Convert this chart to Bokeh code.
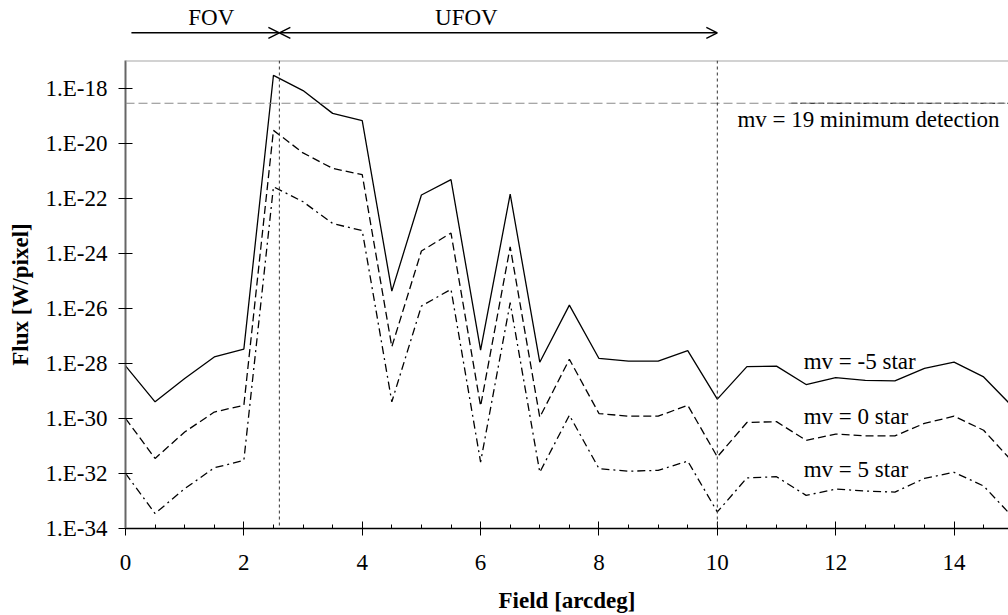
from bokeh.plotting import figure
from bokeh.models import Range1d, FixedTicker, Span, Arrow, OpenHead, Label
from bokeh.layouts import column
from bokeh.embed import file_html
from bokeh.resources import INLINE

# ---------------- data ----------------
field = [0, 0.5, 1, 1.5, 2, 2.5, 3, 3.5, 4, 4.5, 5, 5.5, 6, 6.5, 7, 7.5,
         8, 8.5, 9, 9.5, 10, 10.5, 11, 11.5, 12, 12.5, 13, 13.5, 14, 14.5, 15]

flux_mv_m5 = [8.1e-29, 4.0e-30, 2.8e-29, 1.7e-28, 3.3e-28, 2.9e-18, 8.1e-19, 1.2e-19,
              6.6e-20, 4.2e-26, 1.3e-22, 4.7e-22, 3.0e-28, 1.4e-22, 1.1e-28, 1.3e-26,
              1.5e-28, 1.2e-28, 1.2e-28, 2.9e-28, 5.0e-30, 7.6e-29, 7.9e-29, 1.7e-29,
              3.0e-29, 2.4e-29, 2.3e-29, 6.6e-29, 1.1e-28, 3.2e-29, 2.5e-30]

flux_mv_0 = [1.0e-30, 3.5e-32, 3.2e-31, 1.7e-30, 3.0e-30, 2.9e-20, 4.4e-21, 1.2e-21,
             7.1e-22, 4.0e-28, 1.2e-24, 5.4e-24, 2.8e-30, 1.7e-24, 1.1e-30, 1.4e-28,
             1.5e-30, 1.2e-30, 1.2e-30, 3.0e-30, 4.0e-32, 7.1e-31, 7.6e-31, 1.6e-31,
             2.7e-31, 2.3e-31, 2.3e-31, 6.6e-31, 1.2e-30, 3.7e-31, 2.5e-32]

flux_mv_5 = [1.0e-32, 3.5e-34, 2.8e-33, 1.6e-32, 3.0e-32, 2.6e-22, 7.4e-23, 1.2e-23,
             6.6e-24, 4.0e-30, 1.2e-26, 4.9e-26, 2.6e-32, 1.6e-26, 1.1e-32, 1.3e-30,
             1.5e-32, 1.2e-32, 1.3e-32, 2.8e-32, 4.0e-34, 6.9e-33, 7.6e-33, 1.6e-33,
             2.7e-33, 2.3e-33, 2.1e-33, 6.6e-33, 1.1e-32, 3.5e-33, 2.5e-34]

threshold_mv19 = 2.8e-19
fov_edge = 2.6
ufov_edge = 10.0
fov_start = 0.1

y_ticks = [1e-34, 1e-32, 1e-30, 1e-28, 1e-26, 1e-24, 1e-22, 1e-20, 1e-18]
y_tick_labels = ["1.E-34", "1.E-32", "1.E-30", "1.E-28", "1.E-26",
                 "1.E-24", "1.E-22", "1.E-20", "1.E-18"]
x_ticks = [0, 2, 4, 6, 8, 10, 12, 14]
x_minor_ticks = [0.5, 1, 1.5, 2.5, 3, 3.5, 4.5, 5, 5.5, 6.5, 7, 7.5, 8.5, 9, 9.5,
                 10.5, 11, 11.5, 12.5, 13, 13.5, 14.5]

FONT = "Liberation Serif"
FS = "23px"
W = 1008

xr = Range1d(0, 14.92)

# ---------------- top strip with FOV / UFOV arrows ----------------
top = figure(width=W, height=58, x_range=xr, y_range=Range1d(58, 0),
             x_axis_location=None, y_axis_location=None,
             toolbar_location=None, output_backend="svg",
             min_border_left=125, min_border_right=0, min_border_top=0, min_border_bottom=0,
             outline_line_color=None)
top.grid.visible = False

arrow_y = 32.3
head = dict(size=11, line_width=1.4, line_color="black")
top.add_layout(Arrow(end=OpenHead(**head),
                     x_start=fov_start, y_start=arrow_y, x_end=fov_edge, y_end=arrow_y,
                     line_width=1.4, line_color="black"))
top.add_layout(Arrow(start=OpenHead(**head), end=OpenHead(**head),
                     x_start=fov_edge, y_start=arrow_y, x_end=ufov_edge, y_end=arrow_y,
                     line_width=1.4, line_color="black"))
top.add_layout(Label(x=1.45, y=17, text="FOV", text_align="center", text_baseline="alphabetic",
                     text_font=FONT, text_font_size=FS, text_color="black"))
top.add_layout(Label(x=5.76, y=17, text="UFOV", text_align="center", text_baseline="alphabetic",
                     text_font=FONT, text_font_size=FS, text_color="black"))

# ---------------- main chart ----------------
p = figure(width=W, height=557, x_range=xr, y_range=Range1d(1e-34, 1e-17),
           y_axis_type="log", toolbar_location=None, output_backend="svg",
           min_border_left=125, min_border_right=0, min_border_top=2, min_border_bottom=87,
           outline_line_color=None,
           x_axis_label="Field [arcdeg]", y_axis_label="Flux [W/pixel]")
p.grid.visible = False

p.add_layout(Span(location=1e-17, dimension="width", line_color="#a6a6a6", line_width=2))
p.add_layout(Span(location=threshold_mv19, dimension="width", line_color="#8a8a8a",
                  line_width=1.2, line_dash="9 4"))
p.line([11.25, 15], [threshold_mv19, threshold_mv19], line_color="black",
       line_width=1.2, line_dash="6 3")
p.add_layout(Span(location=fov_edge, dimension="height", line_color="#333333",
                  line_width=1, line_dash="3 3"))
p.add_layout(Span(location=ufov_edge, dimension="height", line_color="#333333",
                  line_width=1, line_dash="3 3"))

p.line(field, flux_mv_m5, line_color="black", line_width=1.3)
p.line(field, flux_mv_0, line_color="black", line_width=1.3, line_dash="8 4")
p.line(field, flux_mv_5, line_color="black", line_width=1.3, line_dash="8 4 2 4")

for x, y, t in [(10.34, 10 ** -19.15, "mv = 19 minimum detection"),
                (11.46, 10 ** -27.95, "mv = -5 star"),
                (11.46, 10 ** -29.92, "mv = 0 star"),
                (11.46, 10 ** -31.84, "mv = 5 star")]:
    p.add_layout(Label(x=x, y=y, text=t, text_align="left", text_baseline="alphabetic",
                       text_font=FONT, text_font_size=FS, text_color="black"))

xa = p.xaxis[0]
xa.ticker = FixedTicker(ticks=x_ticks, minor_ticks=x_minor_ticks)
xa.major_tick_in = 7
xa.major_tick_out = 7
xa.minor_tick_in = 4
xa.minor_tick_out = 0
xa.axis_line_color = "black"
xa.axis_line_width = 1.5
xa.major_tick_line_color = "black"
xa.minor_tick_line_color = "black"
xa.major_label_text_font = FONT
xa.major_label_text_font_size = FS
xa.major_label_text_color = "black"
xa.major_label_standoff = 19
xa.axis_label_text_font = FONT
xa.axis_label_text_font_size = FS
xa.axis_label_text_font_style = "bold"
xa.axis_label_text_color = "black"
xa.axis_label_standoff = 15

ya = p.yaxis[0]
ya.ticker = FixedTicker(ticks=y_ticks, minor_ticks=[])
ya.major_label_overrides = dict(zip(y_ticks, y_tick_labels))
ya.major_tick_in = 7
ya.major_tick_out = 7
ya.minor_tick_in = 0
ya.minor_tick_out = 0
ya.axis_line_color = "#666666"
ya.axis_line_width = 2
ya.major_tick_line_color = "black"
ya.major_label_text_font = FONT
ya.major_label_text_font_size = FS
ya.major_label_text_color = "black"
ya.major_label_standoff = 11
ya.axis_label_text_font = FONT
ya.axis_label_text_font_size = FS
ya.axis_label_text_font_style = "bold"
ya.axis_label_text_color = "black"
ya.axis_label_standoff = 10

layout = column(top, p)
open("out.html", "w").write(file_html(layout, INLINE))
